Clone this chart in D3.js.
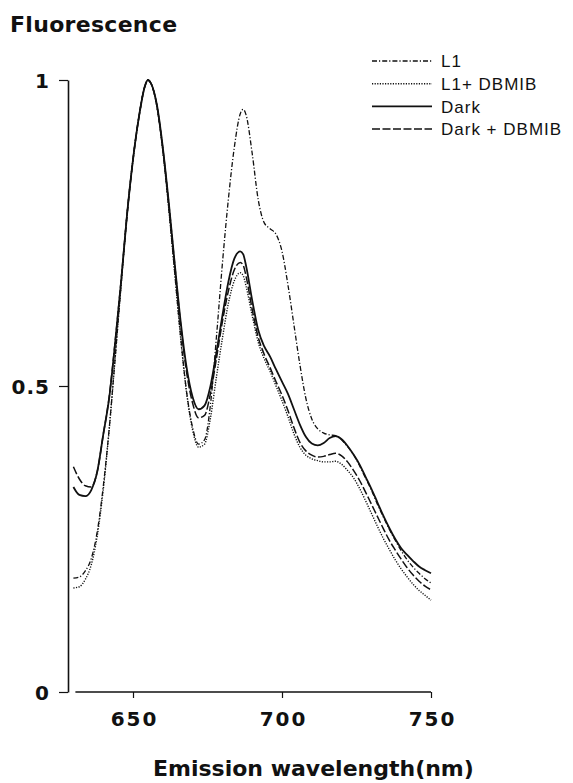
<!DOCTYPE html>
<html><head><meta charset="utf-8">
<script src="https://cdn.jsdelivr.net/npm/d3@7"></script>
<style>
html,body{margin:0;padding:0;background:#fff;}
svg{display:block;}
</style></head>
<body>
<script>
const wavelengths = [630,632,634,636,638,640,642,644,646,648,650,652,654,655,656,658,660,662,664,666,668,670,672,674,676,678,680,682,684,686,687,688,690,692,694,696,698,700,702,704,706,708,710,712,714,716,718,720,722,724,726,728,730,732,734,736,738,740,742,744,746,748,750];

const darkValues = [0.335,0.322,0.320,0.330,0.360,0.420,0.480,0.570,0.670,0.780,0.870,0.940,0.990,1.000,0.995,0.960,0.890,0.800,0.700,0.605,0.530,0.482,0.462,0.468,0.500,0.555,0.615,0.670,0.708,0.720,0.715,0.695,0.640,0.592,0.565,0.548,0.527,0.507,0.487,0.462,0.437,0.417,0.406,0.403,0.407,0.415,0.418,0.413,0.402,0.388,0.372,0.352,0.332,0.310,0.288,0.268,0.250,0.235,0.224,0.214,0.205,0.199,0.194];

const darkDbmibValues = [0.368,0.348,0.337,0.335,0.360,0.420,0.482,0.572,0.672,0.780,0.870,0.940,0.990,1.000,0.995,0.958,0.888,0.798,0.698,0.600,0.522,0.472,0.448,0.452,0.488,0.545,0.605,0.655,0.690,0.702,0.697,0.678,0.625,0.580,0.552,0.530,0.507,0.485,0.460,0.432,0.408,0.394,0.387,0.384,0.385,0.388,0.390,0.386,0.376,0.362,0.346,0.327,0.307,0.287,0.267,0.248,0.232,0.217,0.203,0.191,0.181,0.173,0.167];

const l1Values = [0.186,0.188,0.198,0.218,0.262,0.335,0.430,0.545,0.665,0.780,0.870,0.940,0.990,1.000,0.995,0.958,0.885,0.790,0.685,0.580,0.490,0.432,0.405,0.412,0.470,0.580,0.700,0.805,0.890,0.945,0.952,0.942,0.880,0.805,0.767,0.757,0.748,0.720,0.665,0.600,0.535,0.480,0.446,0.430,0.423,0.420,0.419,0.412,0.401,0.388,0.370,0.350,0.330,0.307,0.286,0.266,0.248,0.231,0.216,0.204,0.194,0.185,0.178];

const l1DbmibValues = [0.170,0.172,0.184,0.208,0.255,0.330,0.428,0.545,0.665,0.780,0.870,0.940,0.990,1.000,0.995,0.958,0.885,0.790,0.685,0.578,0.488,0.428,0.400,0.405,0.448,0.515,0.578,0.635,0.672,0.685,0.680,0.662,0.615,0.572,0.545,0.524,0.500,0.476,0.450,0.422,0.400,0.387,0.381,0.378,0.376,0.376,0.377,0.372,0.362,0.350,0.333,0.313,0.292,0.271,0.251,0.233,0.216,0.201,0.188,0.176,0.166,0.158,0.150];

const seriesNames = ["L1","L1+ DBMIB","Dark","Dark + DBMIB"];
const xTickValues = [650,700,750];
const yTickValues = [0,0.5,1];
const yTickLabels = ["0","0.5","1"];

const W = 573, H = 783;
const svg = d3.select("body").append("svg").attr("width", W).attr("height", H);

const x = d3.scaleLinear().domain([630,750]).range([73.4,431]);
const y = d3.scaleLinear().domain([0,1]).range([692,80]);

const styles = {
  "L1": {dash: "5,2,1.2,2", w: 1.3},
  "L1+ DBMIB": {dash: "1.2,1.4", w: 1.4},
  "Dark": {dash: null, w: 1.8},
  "Dark + DBMIB": {dash: "8,2.5", w: 1.5}
};
const seriesData = {
  "L1": l1Values,
  "L1+ DBMIB": l1DbmibValues,
  "Dark": darkValues,
  "Dark + DBMIB": darkDbmibValues
};

// axes
const yAxis = d3.axisLeft(y).tickValues(yTickValues).tickSize(9).tickSizeOuter(0)
  .tickFormat((d,i) => yTickLabels[i]);
const gy = svg.append("g").attr("transform","translate(68,0)").call(yAxis);
gy.selectAll("path").attr("stroke","#111").attr("stroke-width",1.6);
gy.selectAll("line").attr("stroke","#111").attr("stroke-width",1.2);
gy.selectAll("text").attr("font-family","DejaVu Sans").attr("font-weight","bold")
  .attr("font-size",20).attr("fill","#111").attr("x",-18).attr("dy","0.36em")
  .attr("letter-spacing",1);

const xAxis = d3.axisBottom(x).tickValues(xTickValues).tickSize(6).tickSizeOuter(0);
const gx = svg.append("g").attr("transform","translate(0,692)").call(xAxis);
gx.select("path").attr("d", `M${x(630)+2},0H${x(750)}`).attr("stroke","#111").attr("stroke-width",1.4);
gx.selectAll("line").attr("stroke","#111").attr("stroke-width",1.2);
gx.selectAll("text").attr("font-family","DejaVu Sans").attr("font-weight","bold")
  .attr("font-size",20).attr("fill","#111").attr("y",20).attr("dy","0.71em")
  .attr("letter-spacing",2).attr("dx",1);

// curves
const line = d3.line().x((d,i) => x(wavelengths[i])).y(d => y(d)).curve(d3.curveMonotoneX);
seriesNames.forEach(name => {
  const st = styles[name];
  svg.append("path").datum(seriesData[name])
    .attr("d", line).attr("fill","none").attr("stroke","#111")
    .attr("stroke-width", st.w)
    .attr("stroke-dasharray", st.dash);
});

// titles
svg.append("text").attr("x",10).attr("y",32).text("Fluorescence")
  .attr("font-family","DejaVu Sans").attr("font-weight","bold").attr("font-size",22)
  .attr("letter-spacing",0.3).attr("fill","#111");
svg.append("text").attr("x",153).attr("y",776)
  .text("Emission wavelength(nm)")
  .attr("font-family","DejaVu Sans").attr("font-weight","bold").attr("font-size",22)
  .attr("fill","#111");

// legend
const lg = svg.append("g");
seriesNames.forEach((name,i) => {
  const yy = 61 + i*22.7;
  const st = styles[name];
  lg.append("line").attr("x1",372).attr("x2",432).attr("y1",yy).attr("y2",yy)
    .attr("stroke","#111").attr("stroke-width",st.w)
    .attr("stroke-dasharray",st.dash);
  lg.append("text").attr("x",441).attr("y",yy).attr("dy","0.36em").text(name)
    .attr("font-family","Liberation Sans").attr("font-size",17)
    .attr("letter-spacing",1).attr("fill","#111");
});
</script>
</body></html>
